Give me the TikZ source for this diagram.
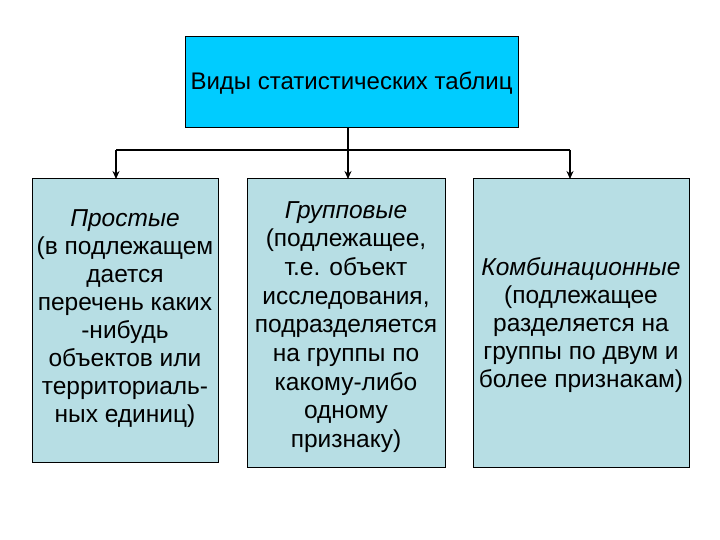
\documentclass[tikz,border=0pt]{standalone}
\usepackage{fontspec}
\setmainfont{Liberation Sans}
\usetikzlibrary{arrows.meta}
\definecolor{topfill}{HTML}{00CCFF}
\definecolor{boxfill}{HTML}{B7DEE4}
\tikzset{
  topbox/.style={draw=black, fill=topfill, line width=1bp, inner sep=0pt},
  lowbox/.style={draw=black, fill=boxfill, line width=1bp, inner sep=0pt},
  txt/.style={align=center, font=\fontsize{24.5bp}{28bp}\selectfont, inner sep=0pt},
  midtxt/.style={align=center, font=\fontsize{24.5bp}{28.7bp}\selectfont, inner sep=0pt},
  toptxt/.style={align=center, font=\fontsize{24bp}{28bp}\selectfont, inner sep=0pt},
  conn/.style={line width=1.3bp},
  arr/.style={line width=1.3bp, -{Stealth[length=8bp,width=7bp]}}
}
\begin{document}
\begin{tikzpicture}[x=1bp,y=-1bp]
\useasboundingbox (0,0) rectangle (720,540);
\draw[topbox] (185,37) rectangle (518,128);
\node[toptxt] (top) at (351.5,83) {Виды статистических таблиц};
\coordinate (topb) at (348,128);
\draw[lowbox] (32,179) rectangle (218,462);
\draw[lowbox] (247,179) rectangle (445,467);
\draw[lowbox] (473,179) rectangle (689,467);
\node[txt] (b1) at (125,319) {\textit{Простые}\\(в подлежащем\\дается\\перечень каких\\-нибудь\\объектов или\\территориаль-\\ных единиц)};
\node[midtxt] (b2) at (346,327) {\textit{Групповые}\\(подлежащее,\\т.е. объект\\исследования,\\подразделяется\\на группы по\\какому-либо\\одному\\признаку)};
\node[txt] (b3) at (581,325) {\textit{Комбинационные}\\(подлежащее\\разделяется на\\группы по двум и\\более признакам)};
\coordinate (j) at (348,150);
\coordinate (jl) at (116,150);
\coordinate (jr) at (570,150);
\coordinate (t1) at (116,179);
\coordinate (t2) at (348,179);
\coordinate (t3) at (570,179);
\draw[conn] (topb) -- (j);
\draw[conn] (jl) -- (jr);
\draw[arr] (jl) -- (t1);
\draw[arr] (j) -- (t2);
\draw[arr] (jr) -- (t3);
\end{tikzpicture}
\end{document}
